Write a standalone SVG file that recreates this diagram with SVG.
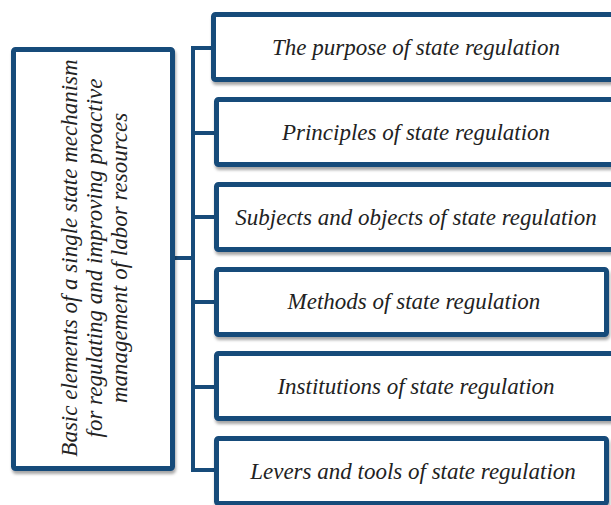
<svg xmlns="http://www.w3.org/2000/svg" width="611" height="505" viewBox="0 0 611 505">
<defs>
<filter id="sh" x="-10%" y="-10%" width="130%" height="130%">
<feDropShadow dx="1" dy="3" stdDeviation="1.5" flood-color="#000" flood-opacity="0.35"/>
</filter>
</defs>
<style>
.box{fill:#fff;stroke:#174b7a;stroke-width:5;filter:url(#sh)}
.t{font-family:"Liberation Serif","Times New Roman",serif;font-style:italic;font-size:23px;fill:#222;text-anchor:middle}
.c{fill:none;stroke:#174b7a;stroke-width:4;stroke-linejoin:miter}
</style>
<rect width="611" height="505" fill="#fff"/>
<g id="connectors">
<path class="c" d="M214 48 H193 V470 H216 M193 133 H216 M193 217 H216 M193 302 H216 M193 387 H216 M175 258 H193"/>
</g>
<g id="main">
<rect class="box" x="13.5" y="49.5" width="159" height="419" rx="2"/>
<g transform="translate(0,258) rotate(-90)">
<text class="t" x="0" y="77">Basic elements of a single state mechanism</text>
<text class="t" x="0" y="102">for regulating and improving proactive</text>
<text class="t" x="0" y="127">management of labor resources</text>
</g>
</g>
<g id="n1">
<rect class="box" x="213.5" y="14.5" width="420" height="65" rx="2"/>
<text class="t" x="416" y="55">The purpose of state regulation</text>
</g>
<g id="n2">
<rect class="box" x="216.5" y="99.5" width="420" height="65" rx="2"/>
<text class="t" x="416" y="140">Principles of state regulation</text>
</g>
<g id="n3">
<rect class="box" x="216.5" y="184.5" width="420" height="65" rx="2"/>
<text class="t" x="416" y="225">Subjects and objects of state regulation</text>
</g>
<g id="n4">
<rect class="box" x="216.5" y="269.5" width="390" height="65" rx="2"/>
<text class="t" x="414" y="309">Methods of state regulation</text>
</g>
<g id="n5">
<rect class="box" x="216.5" y="353.5" width="420" height="65" rx="2"/>
<text class="t" x="416" y="394">Institutions of state regulation</text>
</g>
<g id="n6">
<rect class="box" x="216.5" y="438.5" width="390" height="65" rx="2"/>
<text class="t" x="413" y="479">Levers and tools of state regulation</text>
</g>
</svg>
